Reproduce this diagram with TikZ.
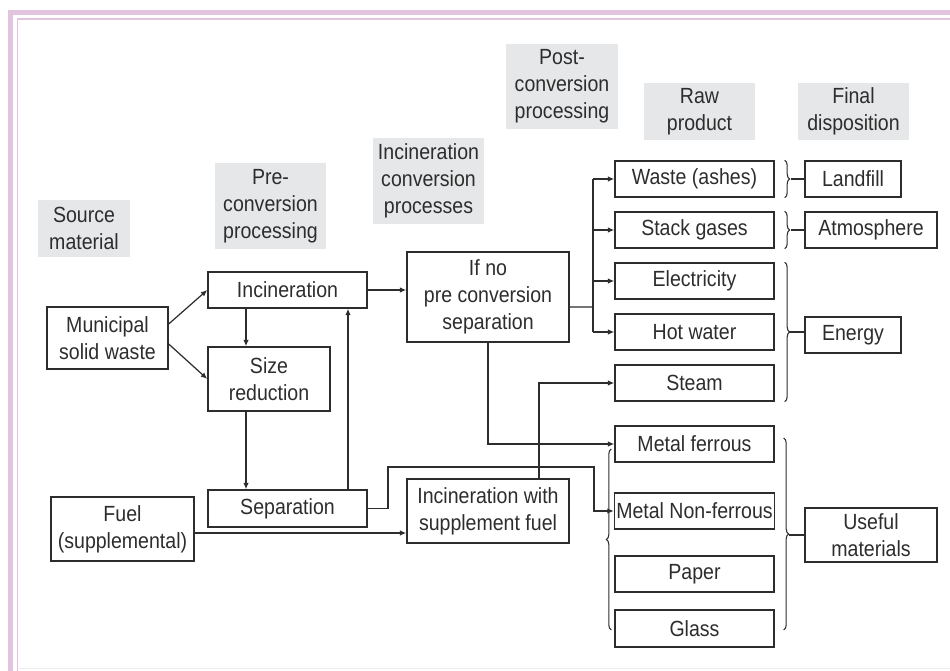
\documentclass[tikz,border=0pt]{standalone}
\usepackage{fontspec}
\setmainfont{Liberation Sans}[FakeStretch=0.89]
\usetikzlibrary{arrows.meta,decorations.pathreplacing}
\definecolor{framepink}{RGB}{226,196,223}
\definecolor{hdrgrey}{RGB}{230,231,232}
\definecolor{ink}{RGB}{45,45,45}
\definecolor{faint}{RGB}{236,236,236}

\begin{document}
\begin{tikzpicture}[
  x=0.02cm, y=-0.02cm,
  font=\fontsize{12.5}{15.4}\selectfont,
  box/.style={draw=ink, line width=0.8pt, text=ink, minimum width=31.8mm,
              minimum height=7.2mm, inner sep=1pt, align=center},
  hdr/.style={fill=hdrgrey, text=ink, minimum width=22.2mm,
              minimum height=17.2mm, inner sep=1pt, align=center},
  arr/.style={-{Latex[length=1.3mm,width=1.1mm]}, ink, line width=0.7pt},
  ln/.style={ink, line width=0.7pt},
  brc/.style={decorate, decoration={brace, amplitude=1mm}, ink, line width=0.6pt}
]
\useasboundingbox (0,0) rectangle (950,671);
% ---------------- frame ----------------
\fill[framepink] (8,10) rectangle (950,15);
\fill[framepink] (8,10) rectangle (13,671);
\draw[framepink, line width=0.4mm] (17.5,671) -- (17.5,19) -- (950,19);
\draw[faint, line width=0.3mm] (19,668.5) -- (950,668.5);
% ---------------- column headers ----------------
\node[hdr, minimum width=18.4mm, minimum height=11.4mm] (hsrc) at (84,228.5) {Source\\material};
\node[hdr] (hpre) at (270.5,206) {Pre-\\conversion\\processing};
\node[hdr] (hinc) at (428.5,181) {Incineration\\conversion\\processes};
\node[hdr, minimum width=22.4mm, minimum height=17mm] (hpost) at (562,86.5) {Post-\\conversion\\processing};
\node[hdr, minimum height=11.4mm] (hraw) at (699.5,111.5) {Raw\\product};
\node[hdr, minimum height=11.4mm] (hfin) at (853.5,111.5) {Final\\disposition};
% ---------------- source and pre-conversion ----------------
\node[box, minimum width=24.2mm, minimum height=12.4mm] (msw) at (107.5,338) {Municipal\\solid waste};
\node[box, minimum width=28.6mm, minimum height=12.8mm] (fuel) at (122.5,529) {Fuel\\(supplemental)};
\node[box] (inc) at (287.5,290) {Incineration};
\node[box, minimum width=24.4mm, minimum height=12.8mm] (size) at (269,379) {Size\\reduction};
\node[box, minimum height=7.4mm] (sep) at (287.5,508.5) {Separation};
% ---------------- conversion ----------------
\node[box, minimum width=32.4mm, minimum height=18mm] (ifno) at (488,297) {If no\\pre conversion\\separation};
\node[box, minimum width=32.4mm, minimum height=12.8mm] (ifuel) at (488,511) {Incineration with\\supplement fuel};
% ---------------- raw products ----------------
\node[box] (ash) at (694.5,179) {Waste (ashes)};
\node[box] (stack) at (694.5,230) {Stack gases};
\node[box] (elec) at (694.5,281) {Electricity};
\node[box] (hot) at (694.5,332) {Hot water};
\node[box] (steam) at (694.5,383) {Steam};
\node[box] (ferr) at (694.5,444) {Metal ferrous};
\node[box] (nonf) at (694.5,511) {Metal Non-ferrous};
\node[box] (paper) at (694.5,574) {Paper};
\node[box, minimum height=7.4mm] (glass) at (694.5,628.5) {Glass};
% ---------------- final disposition ----------------
\node[box, minimum width=19.2mm] (landfill) at (853,179) {Landfill};
\node[box, minimum width=26.4mm] (atmos) at (871,230) {Atmosphere};
\node[box, minimum width=19.2mm] (energy) at (853,335) {Energy};
\node[box, minimum width=26.4mm, minimum height=10.8mm] (useful) at (871,535) {Useful\\materials};
% ---------------- helper coordinates ----------------
\coordinate (colA) at (246,0);
\coordinate (colB) at (348,0);
\coordinate (tr) at (593,307);
\coordinate (j1) at (388,467);
\coordinate (j2) at (594,467);
% ---------------- edges ----------------
\draw[arr] ([yshift=2.8mm]msw.east) -- (inc.west);
\draw[arr] ([yshift=-1.2mm]msw.east) -- (size.west);
\draw[arr] (colA |- inc.south) -- (colA |- size.north);
\draw[arr] (colA |- size.south) -- (colA |- sep.north);
\draw[arr] (colB |- sep.north) -- (colB |- inc.south);
\draw[arr] (inc.east) -- (inc.east -| ifno.west);
\draw[ln] ([yshift=-2mm]ifno.east) -- (tr);
\draw[ln] (tr |- ash) -- (tr |- hot);
\foreach \n in {ash,stack,elec,hot}
  \draw[arr] (tr |- \n) -- (\n.west);
\draw[arr] (ifno.south) |- (ferr.west);
\draw[arr] ([xshift=10.2mm]ifuel.north) |- (steam.west);
\draw[arr] (sep.east) -| (j1) -- (j2) |- (nonf.west);
\draw[arr] ([yshift=-0.8mm]fuel.east) -- ([yshift=-0.8mm]fuel.east -| ifuel.west);
% ---------------- braces ----------------
\draw[brc] ([xshift=2mm]ash.north east) -- ([xshift=2mm]ash.south east);
\draw[brc] ([xshift=2mm]stack.north east) -- ([xshift=2mm]stack.south east);
\draw[brc] ([xshift=2mm]elec.north east) -- ([xshift=2mm]steam.south east);
\draw[brc] ([shift={(1.8mm,1.2mm)}]ferr.east) -- ([shift={(1.8mm,-0.3mm)}]glass.east);
\draw[brc] ([shift={(-0.6mm,-0.3mm)}]glass.west) -- ([shift={(-0.6mm,-1mm)}]ferr.west);
\draw[ln] (landfill.west) -- ++(-2.6mm,0);
\draw[ln] (atmos.west) -- ++(-2.6mm,0);
\draw[ln] ([yshift=0.6mm]energy.west) -- ++(-3mm,0);
\draw[ln] (useful.west) -- ++(-3mm,0);
\end{tikzpicture}
\end{document}
